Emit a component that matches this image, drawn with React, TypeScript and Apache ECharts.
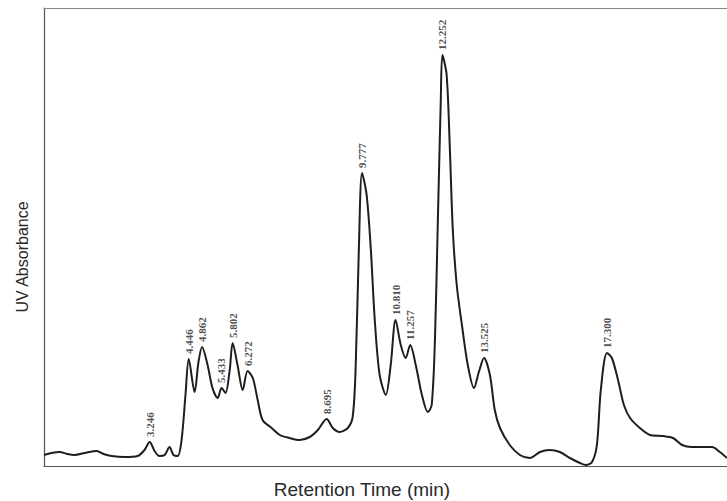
import React, { useEffect, useRef } from "react";
import * as echarts from "echarts";

// Retention time (min) and UV absorbance (arbitrary units) of the trace
const times = [
  0.0, 0.23, 0.48, 0.72, 0.94, 1.25, 1.62, 1.83, 2.08, 2.48, 2.88, 3.09, 3.25, 3.4, 3.55, 3.71, 3.86, 3.98,
  4.11, 4.23, 4.35, 4.45, 4.63, 4.75, 4.86, 5.03, 5.18, 5.34, 5.46, 5.58, 5.71, 5.8, 5.95, 6.11, 6.26, 6.42,
  6.57, 6.72, 7.0, 7.25, 7.55, 7.86, 8.17, 8.42, 8.69, 8.88, 9.09, 9.34, 9.49, 9.58, 9.68, 9.78, 9.92, 10.05,
  10.17, 10.32, 10.51, 10.66, 10.81, 10.97, 11.12, 11.26, 11.43, 11.62, 11.8, 11.92, 12.02, 12.11, 12.2, 12.25,
  12.38, 12.48, 12.57, 12.69, 12.85, 13.03, 13.22, 13.37, 13.53, 13.71, 13.86, 14.02, 14.32, 14.63, 14.94,
  15.25, 15.55, 15.86, 16.17, 16.48, 16.66, 16.85, 17.0, 17.12, 17.31, 17.46, 17.65, 17.83, 18.02, 18.32,
  18.63, 19.03, 19.34, 19.62, 19.92, 20.54, 20.78, 21.0,
];
const absorbance = [
  11, 13, 14, 12, 11, 13, 15, 12, 10, 9, 10, 16, 24, 15, 10, 11, 19, 11,
  10, 26, 71, 107, 74, 104, 119, 101, 78, 68, 78, 73, 96, 123, 101, 76, 95, 88,
  66, 46, 38, 31, 28, 26, 29, 36, 47, 38, 34, 38, 49, 96, 216, 293, 271, 216,
  146, 91, 71, 101, 146, 121, 108, 121, 101, 71, 54, 61, 126, 246, 366, 411,
  391, 316, 236, 181, 141, 101, 78, 94, 108, 91, 56, 38, 21, 11, 8,
  14, 16, 14, 8, 3, 1, 4, 21, 76, 113, 108, 86, 61, 48, 38,
  31, 30, 28, 21, 19, 19, 14, 8,
];

// Labelled peaks
const peakLabels = ["3.246", "4.446", "4.862", "5.433", "5.802", "6.272", "8.695", "9.777", "10.810", "11.257", "12.252", "13.525", "17.300"];
const peakTimes = [3.246, 4.446, 4.862, 5.433, 5.802, 6.272, 8.695, 9.777, 10.81, 11.257, 12.252, 13.525, 17.3];
const peakHeights = [24, 107, 119, 78, 123, 95, 47, 293, 146, 121, 411, 108, 113];

const xTitle = "Retention Time (min)";
const yTitle = "UV Absorbance";

const xMax = 21;
const yMax = 458;

export default function App() {
  const ref = useRef<HTMLDivElement>(null);
  useEffect(() => {
    if (!ref.current) return;
    const chart = echarts.init(ref.current, undefined, { renderer: "svg" });
    const line = times.map((t, i) => [t, absorbance[i]]);
    const peaks = peakTimes.map((t, i) => ({ value: [t, peakHeights[i]], name: peakLabels[i] }));
    chart.setOption({
      animation: false,
      backgroundColor: "#ffffff",
      grid: { left: 44, top: 8, right: 0, bottom: 35 },
      graphic: [
        {
          type: "text",
          x: 362,
          y: 489,
          style: {
            text: xTitle,
            fontFamily: "Liberation Sans",
            fontSize: 19,
            fill: "#2a2a2a",
            align: "center",
            verticalAlign: "middle",
          },
        },
        {
          type: "text",
          x: 22,
          y: 257,
          rotation: Math.PI / 2,
          style: {
            text: yTitle,
            fontFamily: "Liberation Sans",
            fontSize: 16,
            fill: "#2a2a2a",
            align: "center",
            verticalAlign: "middle",
          },
        },
      ],
      xAxis: [
        {
          type: "value",
          min: 0,
          max: xMax,
          axisLine: { show: true, lineStyle: { color: "#555", width: 1.2 } },
          axisTick: { show: false },
          axisLabel: { show: false },
          splitLine: { show: false },
        },
        {
          type: "value",
          min: 0,
          max: xMax,
          position: "top",
          axisLine: { show: true, onZero: false, lineStyle: { color: "#888", width: 1.2 } },
          axisTick: { show: false },
          axisLabel: { show: false },
          splitLine: { show: false },
        },
      ],
      yAxis: {
        type: "value",
        min: 0,
        max: yMax,
        axisLine: { show: true, lineStyle: { color: "#555", width: 1.2 } },
        axisTick: { show: false },
        axisLabel: { show: false },
        splitLine: { show: false },
      },
      series: [
        {
          type: "line",
          data: line,
          showSymbol: false,
          smooth: 0.3,
          lineStyle: { color: "#1e1e1e", width: 2 },
          z: 3,
        },
        {
          type: "scatter",
          data: peaks,
          symbolSize: 0,
          silent: true,
          label: {
            show: true,
            formatter: (p: any) => p.name,
            position: "top",
            distance: 5,
            rotate: 90,
            align: "left",
            verticalAlign: "middle",
            fontFamily: "Liberation Serif",
            fontSize: 11,
            fontWeight: "bold",
            color: "#222",
          },
        },
      ],
    });
    return () => chart.dispose();
  }, []);
  return <div ref={ref} style={{ position: "absolute", left: 0, top: 0, width: 727, height: 501 }} />;
}
